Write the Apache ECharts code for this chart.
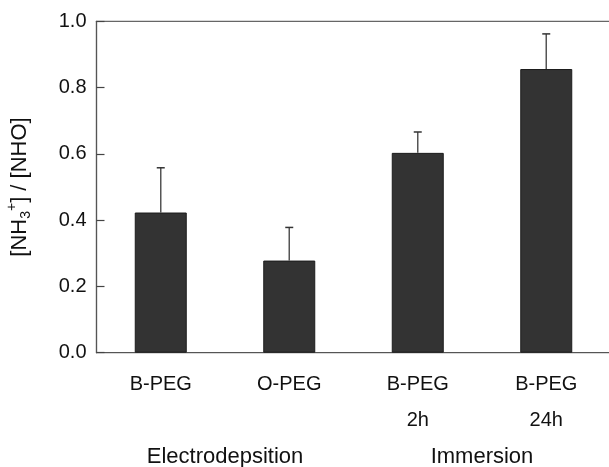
<!DOCTYPE html>
<html>
<head>
  <meta charset="utf-8">
  <title>NH3+ / NHO</title>
  <script src="https://cdn.jsdelivr.net/npm/echarts@6/dist/echarts.min.js"></script>
  <style>
  html, body { margin: 0; padding: 0; background: #fff; }
  #main { width: 609px; height: 467px; }
  </style>
</head>
<body>
  <div id="main"></div>
  <script type="text/javascript">
  // values
  var categories = ['B-PEG', 'O-PEG', 'B-PEG\n2h', 'B-PEG\n24h'];
  var groups = ['Electrodepsition', 'Immersion'];
  var means = [0.423, 0.278, 0.603, 0.856];
  var errors = [0.135, 0.100, 0.063, 0.106];
  var yTicks = [0, 0.2, 0.4, 0.6, 0.8, 1.0];

  var font = 'Liberation Sans, Arial, sans-serif';
  var myChart = echarts.init(document.getElementById('main'));

  var errData = means.map(function (m, i) { return [i, m, m + errors[i]]; });

  var option = {
    animation: false,
    grid: {
      left: 96.5, top: 21.3, width: 514, bottom: 114.3,
      outerBoundsMode: 'none', containLabel: false,
      show: true, borderColor: '#666', borderWidth: 1.2, backgroundColor: 'transparent'
    },
    xAxis: [{
      type: 'category',
      data: categories,
      axisLine: { lineStyle: { color: '#555', width: 1.2 } },
      axisTick: { inside: true, length: 8, lineStyle: { color: '#444', width: 1.2 } },
      axisLabel: { color: '#111', fontFamily: font, fontSize: 20, lineHeight: 36, margin: 14 }
    }, {
      type: 'category',
      data: groups,
      position: 'bottom',
      offset: 84,
      axisLine: { show: false },
      axisTick: { show: false },
      axisLabel: { color: '#111', fontFamily: font, fontSize: 22, lineHeight: 24, margin: 8 }
    }],
    yAxis: {
      type: 'value',
      min: 0, max: 1, interval: 0.2,
      splitLine: { show: false },
      axisLine: { show: true, lineStyle: { color: '#555', width: 1.2 } },
      axisTick: { show: true, inside: true, length: 8, lineStyle: { color: '#444', width: 1.2 } },
      axisLabel: {
        color: '#111', fontFamily: font, fontSize: 20, margin: 10,
        formatter: function (v) { return yTicks.indexOf(Math.round(v * 10) / 10) >= 0 ? v.toFixed(1) : ''; }
      },
      name: '{n|[NH}{sub|3}{sup|+}{n|] / [NHO]}',
      nameLocation: 'middle',
      nameRotate: 90,
      nameGap: 63,
      nameTextStyle: {
        rich: {
          n: { fontFamily: font, fontSize: 22, color: '#111', lineHeight: 28, verticalAlign: 'middle' },
          sub: { fontFamily: font, fontSize: 14, color: '#111', lineHeight: 28, verticalAlign: 'bottom' },
          sup: { fontFamily: font, fontSize: 14, color: '#111', lineHeight: 28, verticalAlign: 'top' }
        }
      }
    },
    series: [{
      type: 'bar',
      data: means,
      barWidth: 52,
      itemStyle: { color: '#333333', borderColor: '#1c1c1c', borderWidth: 1 }
    }, {
      type: 'custom',
      data: errData,
      z: 1,
      renderItem: function (params, api) {
        var base = api.coord([api.value(0), api.value(1)]);
        var top = api.coord([api.value(0), api.value(2)]);
        return {
          type: 'group',
          children: [
            { type: 'line', shape: { x1: base[0], y1: base[1], x2: top[0], y2: top[1] }, style: { stroke: '#555', lineWidth: 1.5 } },
            { type: 'line', shape: { x1: top[0] - 4, y1: top[1], x2: top[0] + 4, y2: top[1] }, style: { stroke: '#333', lineWidth: 1.5 } }
          ]
        };
      }
    }]
  };
  myChart.setOption(option);
  window.onresize = myChart.resize;
  </script>
</body>
</html>
